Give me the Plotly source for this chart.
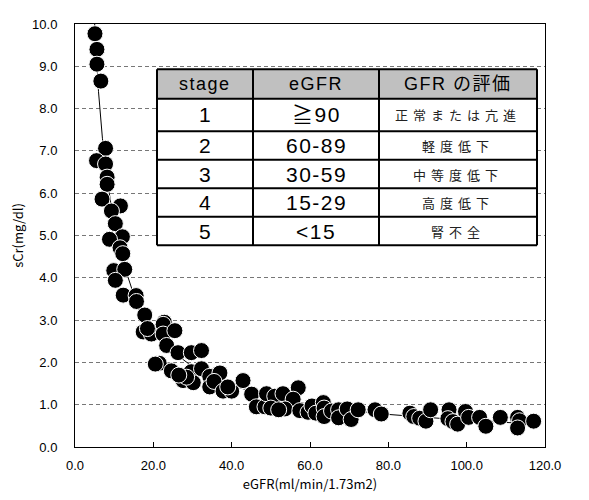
import plotly.graph_objects as go

# Scatter data: eGFR (x) vs serum creatinine (y)
egfr = [5.1, 5.6, 5.6, 6.6,
        7.8, 5.5, 7.8, 8.2, 8.2, 6.9, 11.6, 9.3, 10.3, 12.1, 8.8, 11.5, 12.2, 9.9, 12.7, 10.3,
        12.3, 15.6, 15.7, 17.8, 22.8,
        17.4, 19.5, 22.5, 22.5, 25.5, 18.5, 23.4, 26.3, 29.7, 32.3, 21.5, 20.5, 24.6, 27.6,
        29.7, 32.3, 30.2, 28.5, 26.5, 34.4, 37.0, 34.4, 35.5, 37.8, 40.0, 39.0, 42.9, 45.1,
        46.3, 48.5, 48.9, 51.0, 53.1, 57.0, 55.7, 53.6, 57.4, 59.5, 50.0, 52.0,
        60.5, 61.5, 63.4, 63.6, 63.6, 65.5, 67.3, 67.3, 69.5, 70.5, 72.3, 76.6, 78.2,
        85.5, 86.5, 88.0, 89.6, 90.8, 95.5, 95.2, 96.5, 97.7, 99.7, 100.5, 103.3, 104.9,
        108.6, 113.0, 113.5, 113.0, 117.1]
scr = [9.77, 9.40, 9.05, 8.65,
       7.06, 6.77, 6.69, 6.38, 6.21, 5.86, 5.70, 5.58, 5.28, 4.97, 4.91, 4.71, 4.57, 4.17, 4.20, 3.94,
       3.59, 3.58, 3.44, 3.12, 2.95,
       2.72, 2.67, 2.90, 2.67, 2.75, 2.80, 2.40, 2.23, 2.23, 2.28, 1.98, 1.96, 1.80, 1.57,
       1.78, 1.85, 1.52, 1.65, 1.70, 1.67, 1.75, 1.42, 1.55, 1.32, 1.32, 1.42, 1.57, 1.25,
       0.95, 0.95, 1.26, 1.20, 1.26, 1.40, 1.13, 0.90, 0.86, 0.82, 0.92, 0.88,
       0.97, 0.80, 1.05, 0.92, 0.72, 0.85, 0.88, 0.69, 0.90, 0.65, 0.88, 0.88, 0.78,
       0.80, 0.72, 0.68, 0.61, 0.88, 0.88, 0.67, 0.60, 0.54, 0.84, 0.70, 0.70, 0.49,
       0.70, 0.70, 0.62, 0.45, 0.61]

# Trend curve
trend_x = [4.9, 6.0, 7.0, 8.0, 10.0, 12.0, 15.0, 20.0, 25.0, 30.0, 40.0, 50.0, 60.0,
           70.0, 80.0, 90.0, 100.0, 110.0, 118.0]
trend_y = [10.2, 8.4, 7.3, 6.45, 5.25, 4.45, 3.6, 2.75, 2.25, 1.9, 1.45, 1.2, 1.0,
           0.87, 0.77, 0.70, 0.63, 0.58, 0.55]

# Table contents
table_header = ["stage", "eGFR", "GFR の評価"]
stage = ["1", "2", "3", "4", "5"]
egfr_range = ["≧90", "60-89", "30-59", "15-29", "<15"]
evaluation = ["正常または亢進", "軽度低下", "中等度低下", "高度低下", "腎不全"]

# page body has an 8px default margin
OFF = 8
W, H = 581, 492
ML, MR, MT, MB = 67, 44, 9, 53
PW, PH = W - ML - MR, H - MT - MB

fig = go.Figure()
fig.add_trace(go.Scatter(x=trend_x, y=trend_y, mode="lines",
                         line=dict(color="black", width=1), showlegend=False,
                         hoverinfo="skip"))
fig.add_trace(go.Scatter(x=egfr, y=scr, mode="markers",
                         marker=dict(color="black", size=16,
                                     line=dict(color="white", width=1)),
                         showlegend=False))

# ---- table overlay (screen pixel geometry -> paper coords) ----
col_px = [157, 253, 379, 537]
row_px = [63, 93, 126, 155, 184, 213, 242]


def px_x(p):
    return (p - OFF - ML) / PW


def px_y(p):
    return (OFF + H - MB - p) / PH


shapes = []
shapes.append(dict(type="rect", xref="paper", yref="paper",
                   x0=px_x(col_px[0]), x1=px_x(col_px[-1]),
                   y0=px_y(row_px[-1]), y1=px_y(row_px[0]),
                   fillcolor="white", line=dict(width=0), layer="above"))
shapes.append(dict(type="rect", xref="paper", yref="paper",
                   x0=px_x(col_px[0]), x1=px_x(col_px[-1]),
                   y0=px_y(row_px[1]), y1=px_y(row_px[0]),
                   fillcolor="#c0c0c0", line=dict(width=0), layer="above"))
for r in row_px:
    shapes.append(dict(type="line", xref="paper", yref="paper",
                       x0=px_x(col_px[0]), x1=px_x(col_px[-1]), y0=px_y(r), y1=px_y(r),
                       line=dict(color="black", width=2), layer="above"))
for c in col_px:
    shapes.append(dict(type="line", xref="paper", yref="paper",
                       x0=px_x(c), x1=px_x(c), y0=px_y(row_px[0]), y1=px_y(row_px[-1]),
                       line=dict(color="black", width=2), layer="above"))

annotations = []
columns = [stage, egfr_range, evaluation]
for j, head in enumerate(table_header):
    xc = px_x((col_px[j] + col_px[j + 1]) / 2)
    annotations.append(dict(xref="paper", yref="paper", x=xc,
                            y=px_y((row_px[0] + row_px[1]) / 2),
                            text='<span style="letter-spacing:1.5px">%s</span>' % head,
                            showarrow=False, xanchor="center", yanchor="middle",
                            font=dict(family="Liberation Sans, Noto Sans CJK JP",
                                      size=18, color="black")))
    for i, val in enumerate(columns[j]):
        yc = px_y((row_px[i + 1] + row_px[i + 2]) / 2)
        if j < 2:
            txt = '<span style="letter-spacing:1.5px">%s</span>' % val
            fnt = dict(family="Liberation Sans, Noto Sans CJK JP", size=21, color="black")
        else:
            txt = '<span style="letter-spacing:5px">%s</span>' % val
            fnt = dict(family="Noto Sans CJK JP", size=13, color="#222222")
        annotations.append(dict(xref="paper", yref="paper", x=xc, y=yc, text=txt,
                                showarrow=False, xanchor="center", yanchor="middle",
                                font=fnt))

fig.update_layout(
    width=W, height=H,
    margin=dict(l=ML, r=MR, t=MT, b=MB),
    paper_bgcolor="white", plot_bgcolor="white",
    font=dict(family="Liberation Sans", size=13, color="black"),
    shapes=shapes, annotations=annotations,
)
fig.update_xaxes(range=[0, 120], dtick=20, tickformat=".1f", showgrid=False,
                 zeroline=False, showline=True, linecolor="black", linewidth=1,
                 mirror=True, ticks="inside", ticklen=5, tickcolor="black",
                 ticklabelstandoff=6,
                 title=dict(text="eGFR(ml/min/1.73m2)", standoff=8,
                            font=dict(family="Noto Sans CJK JP", size=13)))
fig.update_yaxes(range=[0, 10], dtick=1, tickformat=".1f", showgrid=True,
                 gridcolor="#777777", griddash="4px,3px", gridwidth=1,
                 zeroline=False, showline=True, linecolor="black", linewidth=1,
                 mirror=True, ticks="", ticklabelstandoff=14,
                 title=dict(text="sCr(mg/dl)", standoff=6,
                            font=dict(family="Noto Sans CJK JP", size=13)))

fig.write_html("out.html")
